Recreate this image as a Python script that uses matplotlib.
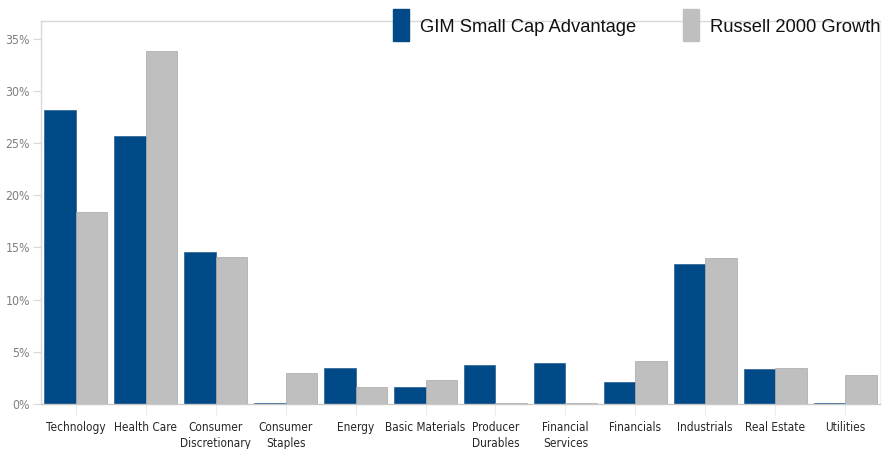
import numpy as np
import matplotlib
matplotlib.use("Agg")
import matplotlib.pyplot as plt
from matplotlib.patches import Rectangle

# sector weights (%)
sectors = ["Technology", "Health Care", "Consumer\nDiscretionary", "Consumer\nStaples",
           "Energy", "Basic Materials", "Producer\nDurables", "Financial\nServices",
           "Financials", "Industrials", "Real Estate", "Utilities"]
gim = [28.2, 25.7, 14.6, 0.1, 3.45, 1.65, 3.75, 3.9, 2.1, 13.4, 3.35, 0.1]
russell = [18.4, 33.85, 14.1, 3.0, 1.65, 2.3, 0.1, 0.05, 4.1, 14.0, 3.45, 2.8]
yticks = [0, 5, 10, 15, 20, 25, 30, 35]

BLUE = "#004a87"
GRAY = "#bfbfbf"
LINE = "#d9d9d9"

fig = plt.figure(figsize=(8.83, 4.49), dpi=100)
ax = fig.add_axes([41 / 883, 1 - 404 / 449, 839 / 883, 383 / 449])

x = np.arange(len(sectors))
width = 0.45
ax.bar(x - width / 2, gim, width, color=BLUE, edgecolor="#2a5f90", linewidth=0.5)
ax.bar(x + width / 2, russell, width, color=GRAY, edgecolor="#a6a6a6", linewidth=0.5)

ax.set_xlim(-0.5, len(sectors) - 0.5)
ax.set_ylim(0, 36.7)
ax.set_yticks(yticks)
ax.set_yticklabels([f"{v}%" for v in yticks])
ax.set_xticks(x)
ax.set_xticklabels(sectors, linespacing=1.35)

# condensed face stands in for the narrow Calibri-like labels
for lab in ax.get_yticklabels():
    lab.set_family("DejaVu Sans")
    lab.set_stretch("condensed")
    lab.set_fontsize(8.8)
    lab.set_color("#7f7f7f")
for lab in ax.get_xticklabels():
    lab.set_family("DejaVu Sans")
    lab.set_stretch("condensed")
    lab.set_fontsize(8.5)
    lab.set_color("#262626")

ax.tick_params(axis="y", length=6, color=LINE, pad=2)
ax.tick_params(axis="x", length=8, color="#ececec", pad=4)

for side in ["left", "top", "bottom"]:
    ax.spines[side].set_color(LINE)
    ax.spines[side].set_linewidth(1)
ax.spines["right"].set_color("#efefef")
ax.spines["bottom"].set_color("#c8c8c8")

# legend drawn at the top, overlapping the frame as in the original
fig.patches.append(Rectangle((393 / 883, 1 - 41 / 449), 16 / 883, 32 / 449,
                             transform=fig.transFigure, color=BLUE))
fig.patches.append(Rectangle((683 / 883, 1 - 41 / 449), 16 / 883, 32 / 449,
                             transform=fig.transFigure, color=GRAY))
fig.text(420 / 883, 1 - 27 / 449, "GIM Small Cap Advantage", fontsize=13.2,
         family="Liberation Sans", va="center", ha="left", color="#111111")
fig.text(710 / 883, 1 - 27 / 449, "Russell 2000 Growth", fontsize=13.2,
         family="Liberation Sans", va="center", ha="left", color="#111111")

fig.savefig("out.png", dpi=100)
